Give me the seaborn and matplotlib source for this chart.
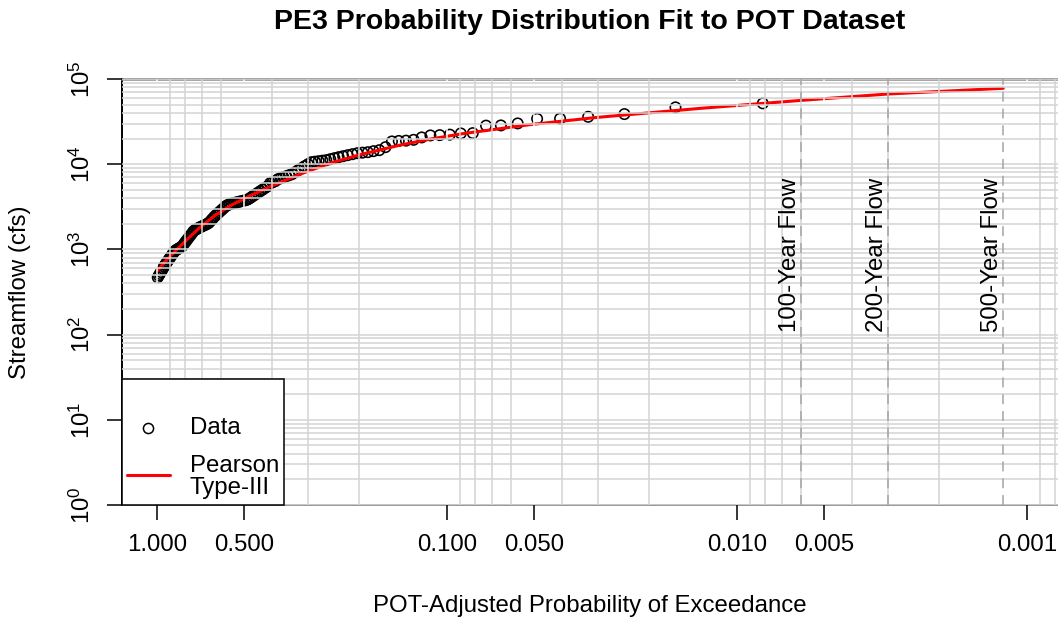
import matplotlib
matplotlib.use("Agg")
import matplotlib.pyplot as plt
import seaborn as sns
from matplotlib.ticker import FixedLocator, FixedFormatter, LogLocator, NullFormatter
from matplotlib.lines import Line2D
from matplotlib.patches import Rectangle

# ---------------- data ----------------
exceed_prob = [
    0.00813, 0.01626, 0.02439, 0.03252, 0.04065, 0.04878, 0.05691, 0.06504, 0.07317, 0.08130,
    0.08943, 0.09756, 0.10569, 0.11382, 0.12195, 0.13008, 0.13821, 0.14634, 0.15447, 0.16260,
    0.17073, 0.17886, 0.18699, 0.19512, 0.20325, 0.21138, 0.21951, 0.22764, 0.23577, 0.24390,
    0.25203, 0.26016, 0.26829, 0.27642, 0.28455, 0.29268, 0.30081, 0.30894, 0.31707, 0.32520,
    0.33333, 0.34146, 0.34959, 0.35772, 0.36585, 0.37398, 0.38211, 0.39024, 0.39837, 0.40650,
    0.41463, 0.42276, 0.43089, 0.43902, 0.44715, 0.45528, 0.46341, 0.47154, 0.47967, 0.48780,
    0.49593, 0.50407, 0.51220, 0.52033, 0.52846, 0.53659, 0.54472, 0.55285, 0.56098, 0.56911,
    0.57724, 0.58537, 0.59350, 0.60163, 0.60976, 0.61789, 0.62602, 0.63415, 0.64228, 0.65041,
    0.65854, 0.66667, 0.67480, 0.68293, 0.69106, 0.69919, 0.70732, 0.71545, 0.72358, 0.73171,
    0.73984, 0.74797, 0.75610, 0.76423, 0.77236, 0.78049, 0.78862, 0.79675, 0.80488, 0.81301,
    0.82114, 0.82927, 0.83740, 0.84553, 0.85366, 0.86179, 0.86992, 0.87805, 0.88618, 0.89431,
    0.90244, 0.91057, 0.91870, 0.92683, 0.93496, 0.94309, 0.95122, 0.95935, 0.96748, 0.97561,
    0.98374, 0.99187,
]
streamflow = [
    51780, 46470, 38750, 36020, 34300, 34120, 30110, 28520, 28370, 23160,
    22980, 22240, 21940, 21760, 20620, 19320, 18900, 18750, 18500, 15850,
    14610, 14220, 13840, 13660, 13470, 13110, 12760, 12420, 12090, 11770,
    11450, 11150, 11000, 10850, 10700, 10560, 10000, 9475, 8970, 8500,
    8050, 7630, 7425, 7225, 7035, 6845, 6660, 6310, 6140, 5975,
    5495, 5262, 5040, 4838, 4634, 4449, 4272, 4102, 3938, 3827,
    3771, 3720, 3670, 3621, 3572, 3529, 3486, 3430, 3375, 3320,
    3222, 3086, 2955, 2838, 2718, 2617, 2506, 2399, 2285, 2176,
    2073, 2006, 1968, 1932, 1895, 1860, 1825, 1790, 1752, 1715,
    1678, 1620, 1538, 1469, 1403, 1336, 1276, 1219, 1164, 1108,
    1070, 1050, 1030, 1011, 989, 971, 942, 900, 859, 823,
    786, 752, 720, 690, 661, 629, 598, 569, 542, 516,
    493, 469,
]
fit_prob = [0.992, 0.936, 0.865, 0.799, 0.709, 0.629, 0.546, 0.477, 0.407, 0.3206,
            0.2526, 0.1991, 0.1449, 0.1142, 0.0879, 0.0516, 0.0303, 0.01338, 0.0060,
            0.003014, 0.001205]
fit_flow = [566, 722, 947, 1242, 1815, 2512, 3383, 4258, 5433, 7626,
            10280, 12940, 16740, 19690, 22840, 29150, 35430, 45200, 56100,
            66650, 77800]
event_labels = ["100-Year Flow", "200-Year Flow", "500-Year Flow"]
event_prob = [0.00600, 0.003014, 0.001205]
xtick_vals = [1.0, 0.5, 0.1, 0.05, 0.01, 0.005, 0.001]
xtick_labels = ["1.000", "0.500", "0.100", "0.050", "0.010", "0.005", "0.001"]
ytick_vals = [1, 10, 100, 1000, 10000, 100000]
ytick_labels = [r"$10^{0}$", r"$10^{1}$", r"$10^{2}$", r"$10^{3}$", r"$10^{4}$", r"$10^{5}$"]

# ---------------- style ----------------
sns.set_theme(style="white")
plt.rcParams["font.family"] = ["Liberation Sans", "DejaVu Sans"]
plt.rcParams["mathtext.default"] = "regular"
for key in ["text.color", "axes.labelcolor", "xtick.color", "ytick.color"]:
    plt.rcParams[key] = "black"
FS = 17.3
GRID = "#d3d3d3"

W, H = 1058, 620
fig = plt.figure(figsize=(W / 100, H / 100), dpi=100)
ax = fig.add_axes([122 / W, 115 / H, 936 / W, 426 / H])
ax.set_xscale("log")
ax.set_yscale("log")

sns.scatterplot(x=exceed_prob, y=streamflow, ax=ax, marker="o", s=56,
                facecolor="none", edgecolor="black", linewidth=1.15, zorder=2)
sns.lineplot(x=fit_prob, y=fit_flow, ax=ax, color="red", linewidth=2.2,
             sort=False, estimator=None, zorder=2)

for p, lab in zip(event_prob, event_labels):
    ax.axvline(p, color="#a4a4a4", linewidth=1.1, dashes=(6.5, 4.5), zorder=3)
    ax.text(p, 874, lab, rotation=90, ha="right", va="center", fontsize=FS,
            color="black", zorder=3)

ax.set_xlim(1.3173, 0.00078)
ax.set_ylim(1, 1e5)

ax.xaxis.set_major_locator(FixedLocator(xtick_vals))
ax.xaxis.set_major_formatter(FixedFormatter(xtick_labels))
ax.xaxis.set_minor_locator(LogLocator(base=10, subs=[1, 2, 3, 4, 5, 6, 7, 8, 9], numticks=50))
ax.xaxis.set_minor_formatter(NullFormatter())
ax.yaxis.set_major_locator(FixedLocator(ytick_vals))
ax.yaxis.set_major_formatter(FixedFormatter(ytick_labels))
ax.yaxis.set_minor_locator(LogLocator(base=10, subs=[2, 3, 4, 5, 6, 7, 8, 9], numticks=50))
ax.yaxis.set_minor_formatter(NullFormatter())

ax.set_axisbelow(False)
ax.grid(which="both", color=GRID, linewidth=1.1)
ax.xaxis.grid(True, which="major", color=(1, 1, 1, 0))
ax.xaxis.grid(True, which="minor", color=GRID, linewidth=1.1)

ax.tick_params(axis="both", which="major", length=10.8, width=1.1, color="black",
               labelsize=FS, labelcolor="black", direction="out")
ax.tick_params(axis="x", which="major", pad=10, bottom=True)
ax.tick_params(axis="y", which="major", pad=9, left=True)
ax.tick_params(axis="both", which="minor", length=0)
for t in ax.get_yticklabels():
    t.set_rotation(90)
    t.set_va("center")

ax.spines["right"].set_visible(False)
ax.spines["left"].set_color("black")
ax.spines["left"].set_linewidth(1.4)
ax.spines["top"].set_color("#8c8c8c")
ax.spines["top"].set_linewidth(1.8)
ax.spines["bottom"].set_color("#9a9a9a")
ax.spines["bottom"].set_linewidth(1.4)

# legend (box in lower-left corner)
lw_box = (284 - 122) / 936
lh_box = (505 - 379) / 426
ax.add_patch(Rectangle((0, 0), lw_box, lh_box, transform=ax.transAxes,
                       facecolor="white", edgecolor="black", linewidth=1.1,
                       zorder=5, clip_on=False))
ax.add_line(Line2D([(148 - 122) / 936], [(505 - 428) / 426], transform=ax.transAxes,
                   marker="o", linestyle="none", markersize=7.3, markerfacecolor="none",
                   markeredgecolor="black", markeredgewidth=1.1, zorder=6))
ax.add_line(Line2D([(127 - 122) / 936, (170 - 122) / 936], [(505 - 475) / 426] * 2,
                   transform=ax.transAxes, color="red", linewidth=2.2, zorder=6))
ax.text((190 - 122) / 936, (505 - 428) / 426, "Data", transform=ax.transAxes,
        ha="left", va="center", fontsize=FS, zorder=6)
ax.text((190 - 122) / 936, (505 - 477) / 426, "Pearson\nType-III", transform=ax.transAxes,
        ha="left", va="center", fontsize=FS, linespacing=1.05, zorder=6)

ax.set_xlabel("POT-Adjusted Probability of Exceedance", fontsize=FS, va="center")
ax.xaxis.set_label_coords(0.5, (505 - 606) / 426)
ax.set_ylabel("Streamflow (cfs)", fontsize=FS, va="center")
ax.yaxis.set_label_coords((20 - 122) / 936, 0.5)

fig.text(590 / W, 1 - 22 / H, "PE3 Probability Distribution Fit to POT Dataset",
         ha="center", va="center", fontsize=20.5, fontweight="bold", color="black")

fig.savefig("out.png", dpi=100)
